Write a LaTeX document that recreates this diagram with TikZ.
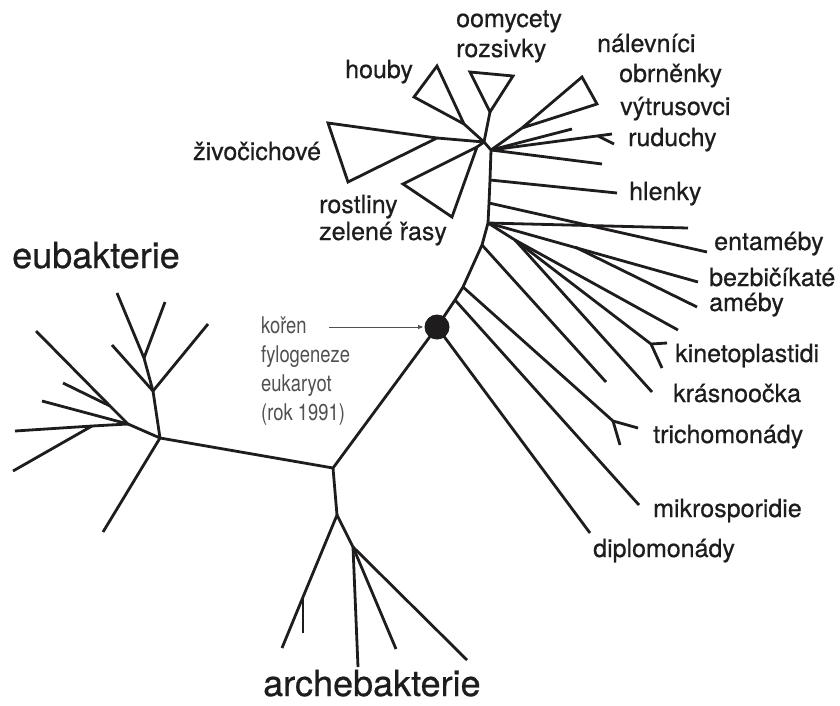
\documentclass[tikz,border=0pt]{standalone}
\usepackage{fontspec}
\setmainfont[FakeBold=0.6]{TeX Gyre Heros}
\newfontfamily\notefont[FakeStretch=0.8]{TeX Gyre Heros}
\usetikzlibrary{arrows.meta}
\definecolor{inkblack}{RGB}{30,28,28}
\definecolor{notegray}{RGB}{80,80,80}
\tikzset{
    phylo/.style={x=1pt, y=-1pt, line join=miter, miter limit=3},
    branch/.style={draw=inkblack, line width=2.8pt},
    clade/.style={branch},
    taxon/.style={anchor=base west, inner sep=0pt, align=left, text=inkblack,
        font=\fontsize{25}{30}\selectfont},
    kingdom label/.style={anchor=base west, inner sep=0pt, text=inkblack,
        font=\fontsize{36}{40}\selectfont},
    root dot/.style={circle, fill=inkblack, minimum size=25pt, inner sep=0pt},
    root note/.style={anchor=base west, inner sep=0pt, align=left, text=notegray,
        font=\notefont\fontsize{23}{29}\selectfont},
    root pointer/.style={-{Latex[length=6pt, width=4.5pt]}, draw=notegray,
        line width=0.9pt, shorten >=13pt},
}

\begin{document}
\begin{tikzpicture}[phylo]
    \useasboundingbox (0,0) rectangle (840,705);

    % backbone
    \node[root dot] (root) at (437,327) {};
    \coordinate (eu-hub) at (160,438);
    \coordinate (centre) at (333,468);
    \coordinate (ar-hub) at (337,515);
    \draw[branch] (eu-hub) -- (centre) -- (root.center);
    \draw[branch] (centre) -- (ar-hub);

    % eubakterie
    \coordinate (eu-a) at (153,391);
    \coordinate (eu-b) at (144,358);
    \coordinate (eu-c) at (128,424);
    \coordinate (eu-d) at (110,406);
    \coordinate (eu-e) at (92,426);
    \coordinate (eu-t1) at (117,293);
    \coordinate (eu-t2) at (165,302);
    \coordinate (eu-t3) at (208,324);
    \coordinate (eu-t4) at (112,345);
    \coordinate (eu-t5) at (36,331);
    \coordinate (eu-t6) at (63,383);
    \coordinate (eu-t7) at (42,401);
    \coordinate (eu-t8) at (15,431);
    \coordinate (eu-t9) at (13,471);
    \coordinate (eu-t10) at (103,532);
    \draw[branch] (eu-hub) -- (eu-a) -- (eu-b) -- (eu-t1);
    \draw[branch] (eu-b) -- (eu-t2);
    \draw[branch] (eu-a) -- (eu-t3);
    \draw[branch] (eu-a) -- (eu-t4);
    \draw[branch] (eu-hub) -- (eu-c) -- (eu-d) -- (eu-t5);
    \draw[branch] (eu-d) -- (eu-t6);
    \draw[branch] (eu-c) -- (eu-t7);
    \draw[branch] (eu-c) -- (eu-e) -- (eu-t8);
    \draw[branch] (eu-e) -- (eu-t9);
    \draw[branch] (eu-hub) -- (eu-t10);

    % archebakterie
    \coordinate (ar-a) at (303,597);
    \coordinate (ar-b) at (353,547);
    \coordinate (ar-t1) at (282,648);
    \coordinate (ar-t2) at (303,633);
    \coordinate (ar-t3) at (358,667);
    \coordinate (ar-t4) at (396,649);
    \coordinate (ar-t5) at (467,660);
    \draw[branch] (ar-hub) -- (ar-a) -- (ar-t1);
    \draw[branch] (ar-a) -- (ar-t2);
    \draw[branch] (ar-hub) -- (ar-b) -- (ar-t3);
    \draw[branch] (ar-b) -- (ar-t4);
    \draw[branch] (ar-b) -- (ar-t5);

    % eukaryota: stem
    \coordinate (st1) at (455,300);
    \coordinate (st2) at (463,287);
    \coordinate (st3) at (482,245);
    \coordinate (st4) at (488,223);
    \coordinate (st5) at (489,203);
    \coordinate (st6) at (490,180);
    \coordinate (st7) at (491,150);
    \coordinate (cr-hub) at (484,142);
    \draw[branch] (root.center) -- (st1) -- (st2) -- (st3) -- (st4)
        -- (st5) -- (st6) -- (st7) -- (cr-hub);

    % eukaryota: fan
    \coordinate (br-a) at (515,240);
    \coordinate (br-b) at (575,247);
    \coordinate (fk-tricho) at (613,421);
    \coordinate (fk-kineto) at (651,344);
    \coordinate (fk-rudu) at (598,136);
    \coordinate (tip-diplo) at (590,533);
    \coordinate (tip-mikro) at (639,505);
    \coordinate (tip-tricho1) at (638,428);
    \coordinate (tip-tricho2) at (620,445);
    \coordinate (tip-x1) at (606,382);
    \coordinate (tip-krasno) at (652,392);
    \coordinate (tip-kineto1) at (667,343);
    \coordinate (tip-kineto2) at (662,368);
    \coordinate (tip-x2) at (678,330);
    \coordinate (tip-bezbic) at (698,282);
    \coordinate (tip-ameby) at (697,307);
    \coordinate (tip-x3) at (688,228);
    \coordinate (tip-entam) at (707,252);
    \coordinate (tip-hlenky) at (617,193);
    \coordinate (tip-x4) at (602,164);
    \coordinate (tip-rudu) at (612,134);
    \coordinate (tip-rudu2) at (614,144);
    \coordinate (tip-vytrus) at (572,129);
    \draw[branch] (root.center) -- (tip-diplo);
    \draw[branch] (st1) -- (tip-mikro);
    \draw[branch] (st2) -- (fk-tricho) -- (tip-tricho1);
    \draw[branch] (fk-tricho) -- (tip-tricho2);
    \draw[branch] (st3) -- (tip-x1);
    \draw[branch] (st4) -- (br-a) -- (tip-krasno);
    \draw[branch] (br-a) -- (fk-kineto) -- (tip-kineto1);
    \draw[branch] (fk-kineto) -- (tip-kineto2);
    \draw[branch] (br-a) -- (tip-x2);
    \draw[branch] (st4) -- (tip-bezbic);
    \draw[branch] (br-b) -- (tip-ameby);
    \draw[branch] (st4) -- (tip-x3);
    \draw[branch] (st5) -- (tip-entam);
    \draw[branch] (st6) -- (tip-hlenky);
    \draw[branch] (st7) -- (tip-x4);
    \draw[branch] (st7) -- (tip-rudu);
    \draw[branch] (fk-rudu) -- (tip-rudu2);
    \draw[branch] (st7) -- (tip-vytrus);

    % eukaryota: collapsed clades
    \coordinate (ap-obr) at (522,128);
    \coordinate (ap-oomy) at (490,112);
    \coordinate (ap-houby) at (464,124);
    \coordinate (ap-zivo) at (437,138);
    \coordinate (ap-rost) at (477,147);
    \draw[branch] (st7) -- (ap-obr);
    \draw[clade] (ap-obr) -- (582,77) -- (597,104) -- cycle;
    \draw[branch] (cr-hub) -- (ap-oomy);
    \draw[clade] (ap-oomy) -- (470,72) -- (513,76) -- cycle;
    \draw[branch] (cr-hub) -- (ap-houby);
    \draw[clade] (ap-houby) -- (437,66) -- (414,97) -- cycle;
    \draw[branch] (cr-hub) -- (ap-zivo);
    \draw[clade] (ap-zivo) -- (328,123) -- (348,182) -- cycle;
    \draw[branch] (cr-hub) -- (ap-rost);
    \draw[clade] (ap-rost) -- (403,184) -- (452,217) -- cycle;

    % labels (multi-line ones sit on their last baseline)
    \node[kingdom label] (eubakterie) at (12,268) {eubakterie};
    \node[kingdom label] (archebakterie) at (263,696) {archebakterie};
    \node[taxon] (houby) at (345,78) {houby};
    \node[taxon] (oomycety) at (456,57) {oomycety\\rozsivky};
    \node[taxon] (nalevnici) at (597,52) {nálevníci};
    \node[taxon] (obrnenky) at (619,82) {obrněnky};
    \node[taxon] (vytrusovci) at (620,115) {výtrusovci};
    \node[taxon] (ruduchy) at (628,146) {ruduchy};
    \node[taxon] (hlenky) at (629,200) {hlenky};
    \node[taxon] (entameby) at (714,250) {entaméby};
    \node[taxon] (bezbicikate) at (709,311) {bezbičíkaté\\[-5pt]améby};
    \node[taxon] (kinetoplastidi) at (675,362) {kinetoplastidi};
    \node[taxon] (krasnoocka) at (673,402) {krásnoočka};
    \node[taxon] (trichomonady) at (653,443) {trichomonády};
    \node[taxon] (mikrosporidie) at (653,517) {mikrosporidie};
    \node[taxon] (diplomonady) at (593,557) {diplomonády};
    \node[taxon] (zivocichove) at (193,160) {živočichové};
    \node[taxon] (rostliny) at (319,240) {rostliny\\[-3pt]zelené řasy};

    % root of the eukaryote tree
    \node[root note] (koren) at (261,420) {kořen\\fylogeneze\\eukaryot\\(rok 1991)};
    \coordinate (pointer-start) at (329,327);
    \draw[root pointer] (pointer-start) -- (root.center);
\end{tikzpicture}
\end{document}
